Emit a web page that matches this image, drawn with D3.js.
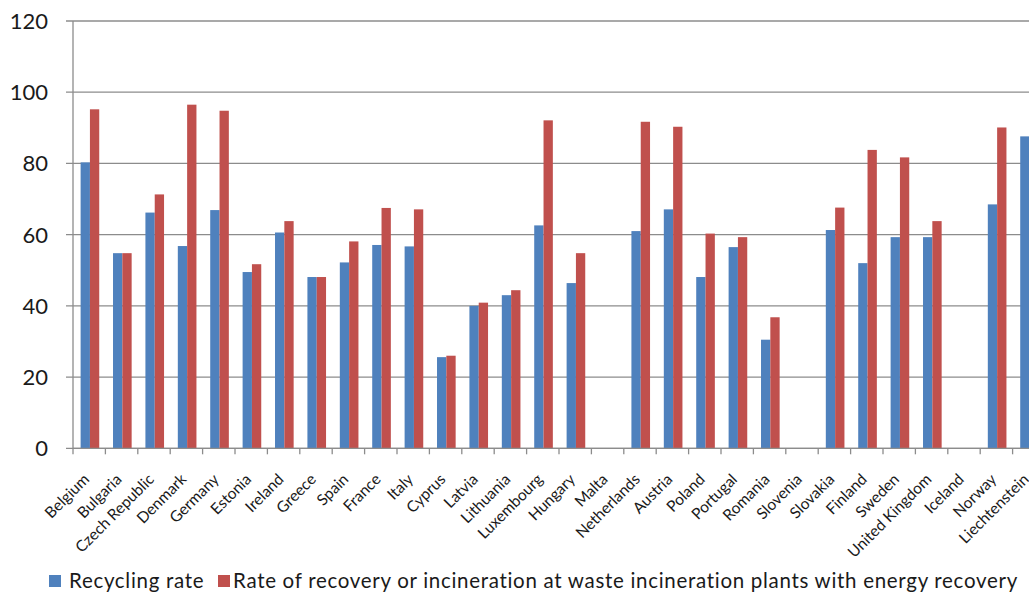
<!DOCTYPE html>
<html>
<head>
<meta charset="utf-8">
<script src="https://cdn.jsdelivr.net/npm/d3@7"></script>
<style>
  html, body { margin: 0; padding: 0; background: #fff; overflow: hidden; }
  svg { display: block; }
</style>
</head>
<body>
<svg id="chart"></svg>
<script>
const countries = [
  "Belgium", "Bulgaria", "Czech Republic", "Denmark", "Germany", "Estonia",
  "Ireland", "Greece", "Spain", "France", "Italy", "Cyprus", "Latvia",
  "Lithuania", "Luxembourg", "Hungary", "Malta", "Netherlands", "Austria",
  "Poland", "Portugal", "Romania", "Slovenia", "Slovakia", "Finland",
  "Sweden", "United Kingdom", "Iceland", "Norway", "Liechtenstein"
];

// null = no bar shown
const recyclingRate = [
  80.3, 54.8, 66.2, 56.8, 66.9, 49.5, 60.6, 48.1, 52.2, 57.1, 56.7, 25.6,
  40.0, 43.0, 62.6, 46.4, null, 61.0, 67.1, 48.1, 56.5, 30.5, null, 61.3,
  52.0, 59.3, 59.3, null, 68.5, 87.6
];

const recoveryRate = [
  95.2, 54.8, 71.3, 96.5, 94.8, 51.7, 63.8, 48.1, 58.1, 67.5, 67.1, 26.0,
  40.9, 44.4, 92.1, 54.8, null, 91.7, 90.3, 60.3, 59.3, 36.8, null, 67.6,
  83.8, 81.7, 63.8, null, 90.1, null
];

const seriesNames = [
  "Recycling rate",
  "Rate of recovery or incineration at waste incineration plants with energy recovery"
];
const seriesColors = ["#4f81bd", "#c0504d"];
const yTicks = [0, 20, 40, 60, 80, 100, 120];

const width = 1029;
const height = 593;
const margin = { top: 21, left: 73 };
// the plot runs past the right edge of the picture, like the original crop
const plotRight = 73 + 32.4 * countries.length;

const svg = d3.select("#chart").attr("width", width).attr("height", height);
const font = "Lato, 'Open Sans', sans-serif";

const x0 = d3.scaleBand().domain(countries).range([margin.left, plotRight]).padding(0);
const x1 = d3.scaleBand()
  .domain([0, 1])
  .range([x0.bandwidth() * 0.235, x0.bandwidth() * 0.81]);
const y = d3.scaleLinear().domain([0, 120]).range([448.3, margin.top]);

// gridlines
svg.append("g")
  .selectAll("line")
  .data(yTicks)
  .join("line")
  .attr("x1", margin.left - 7)
  .attr("x2", plotRight)
  .attr("y1", (d) => y(d))
  .attr("y2", (d) => y(d))
  .attr("stroke", "#8c8c8c")
  .attr("stroke-width", 1.3);

// y axis labels
svg.append("g")
  .selectAll("text")
  .data(yTicks)
  .join("text")
  .attr("x", 48)
  .attr("y", (d) => y(d))
  .attr("dy", "0.36em")
  .attr("text-anchor", "end")
  .style("font-family", font)
  .style("font-size", "22px")
  .style("fill", "#1a1a1a")
  .text((d) => d);

// vertical axis line
svg.append("line")
  .attr("x1", margin.left)
  .attr("x2", margin.left)
  .attr("y1", y(120))
  .attr("y2", y(0))
  .attr("stroke", "#8c8c8c")
  .attr("stroke-width", 1.3);

// bars
const rows = countries.map((c, i) => ({
  name: c,
  values: [recyclingRate[i], recoveryRate[i]]
}));

const groups = svg.append("g")
  .selectAll("g")
  .data(rows)
  .join("g")
  .attr("transform", (d) => `translate(${x0(d.name)},0)`);

groups.selectAll("rect")
  .data((d) => d.values.map((v, k) => ({ v, k })).filter((e) => e.v != null))
  .join("rect")
  .attr("x", (d) => x1(d.k))
  .attr("width", x1.bandwidth())
  .attr("y", (d) => y(d.v))
  .attr("height", (d) => y(0) - y(d.v))
  .attr("fill", (d) => seriesColors[d.k]);

// x axis line + tick marks
svg.append("line")
  .attr("x1", margin.left)
  .attr("x2", plotRight)
  .attr("y1", y(0))
  .attr("y2", y(0))
  .attr("stroke", "#8c8c8c")
  .attr("stroke-width", 1.3);

svg.append("g")
  .selectAll("line")
  .data(countries.concat(["end"]))
  .join("line")
  .attr("x1", (d, i) => margin.left + i * x0.step())
  .attr("x2", (d, i) => margin.left + i * x0.step())
  .attr("y1", y(0))
  .attr("y2", y(0) + 6)
  .attr("stroke", "#8c8c8c")
  .attr("stroke-width", 1.3);

// rotated category labels
svg.append("g")
  .selectAll("text")
  .data(countries)
  .join("text")
  .attr("transform", (d) => `translate(${x0(d) + x0.bandwidth() / 2 + 1},${y(0) + 32}) rotate(-45)`)
  .attr("text-anchor", "end")
  .style("font-family", font)
  .style("font-size", "15.5px")
  .style("fill", "#1a1a1a")
  .text((d) => d);

// legend
const legend = svg.append("g").attr("transform", "translate(0,581)");
const legendItems = [
  { x: 49, tx: 69 },
  { x: 218, tx: 233 }
];
legendItems.forEach((it, k) => {
  legend.append("rect")
    .attr("x", it.x)
    .attr("y", -6)
    .attr("width", 12)
    .attr("height", 12)
    .attr("fill", seriesColors[k]);
  legend.append("text")
    .attr("x", it.tx)
    .attr("y", 0)
    .attr("dy", "0.35em")
    .style("font-family", font)
    .style("font-size", "20.5px")
    .style("letter-spacing", "0.7px")
    .style("fill", "#1a1a1a")
    .text(seriesNames[k]);
});
</script>
</body>
</html>
